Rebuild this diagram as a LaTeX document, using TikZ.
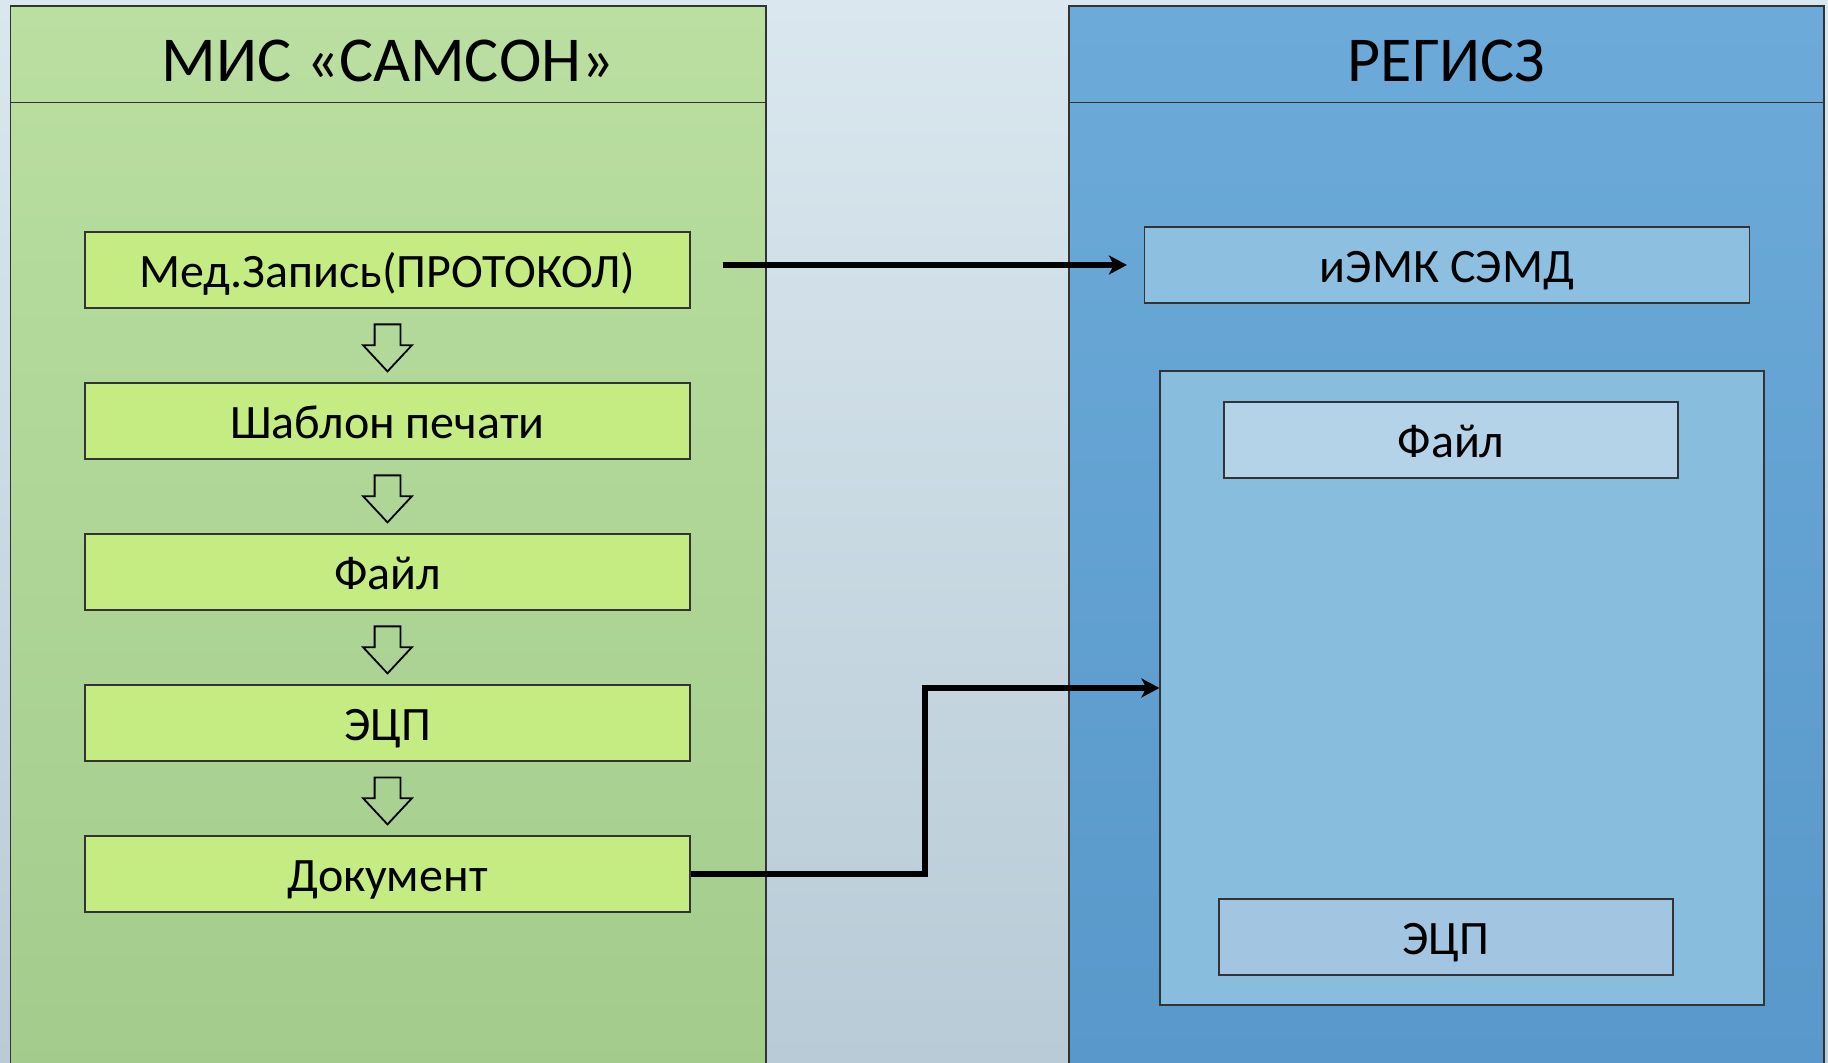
\documentclass[tikz,border=0pt]{standalone}
\usepackage{fontspec}
\setmainfont{Carlito}
\usetikzlibrary{calc,positioning,arrows.meta,shapes.arrows}

\definecolor{bgTop}{RGB}{218,231,239}
\definecolor{bgBot}{RGB}{184,203,214}
\definecolor{misTop}{RGB}{186,223,160}
\definecolor{misBot}{RGB}{163,204,140}
\definecolor{misBox}{RGB}{197,236,131}
\definecolor{regTop}{RGB}{108,171,217}
\definecolor{regBot}{RGB}{88,152,202}
\definecolor{regBox}{RGB}{141,192,224}
\definecolor{regIn}{RGB}{137,189,222}
\definecolor{regFile}{RGB}{180,211,232}
\definecolor{regSig}{RGB}{162,198,225}

\begin{document}
\begin{tikzpicture}[x=0.5pt,y=0.5pt]
 \tikzstyle{arrow} = [->,line width=2.6pt,>={Stealth[length=9pt,width=9.5pt,inset=2.5pt]}];
 \tikzstyle{box}   = [draw=black!80,line width=0.6pt,minimum width=302.5pt,minimum height=38pt,inner sep=0pt,font=\fontsize{24}{28}\selectfont,text height=19pt,text depth=1.5pt];
 \tikzstyle{boxG}  = [box,fill=misBox,node distance=75.5pt];
 \tikzstyle{boxB}  = [box,fill=regBox];
 \tikzstyle{title} = [font=\fontsize{32}{38}\selectfont];
 \tikzstyle{down}  = [single arrow,draw=black,line width=0.9pt,rotate=-90,minimum height=23.5pt,inner sep=6pt,single arrow head extend=5.75pt,single arrow tip angle=86];
 \tikzstyle{panel} = [draw=black!80,line width=0.6pt];

 \clip (0,0) rectangle (1828,1063);
 \shade[top color=bgTop,bottom color=bgBot] (0,0) rectangle (1828,1063);

 %% panel МИС
 \shadedraw[panel,top color=misTop,bottom color=misBot] (10.5,-10) rectangle (766,1057);
 \draw[panel] (10.5,960.4) -- (766,960.4);
 \node[title,name=mis] at (388,1002) {МИС «САМСОН»};

 %% panel РЕГИСЗ
 \shadedraw[panel,top color=regTop,bottom color=regBot] (1069,-10) rectangle (1824,1057);
 \draw[panel] (1069,960.4) -- (1824,960.4);
 \node[title,name=reg] at (1446.5,1002) {РЕГИСЗ};

 %% steps
 \node[boxG,name=m0] at (387.5,793) {Мед.Запись(ПРОТОКОЛ)};
 \node[boxG,name=m1,below of=m0] {Шаблон печати};
 \node[boxG,name=m2,below of=m1] {Файл};
 \node[boxG,name=m3,below of=m2] {ЭЦП};
 \node[boxG,name=m4,below of=m3] {Документ};

 \node[down,name=d0] at ($(m0.south)!0.5!(m1.north)+(0,4.5)$) {};
 \node[down,name=d1] at ($(m1.south)!0.5!(m2.north)+(0,4.5)$) {};
 \node[down,name=d2] at ($(m2.south)!0.5!(m3.north)+(0,4.5)$) {};
 \node[down,name=d3] at ($(m3.south)!0.5!(m4.north)+(0,4.5)$) {};

 %% РЕГИСЗ side
 \node[boxB,name=iemk] at (1447,798) {иЭМК СЭМД};
 \node[panel,fill=regIn,minimum width=302pt,minimum height=317pt,name=cont] at (1462,375) {};
 \node[box,fill=regFile,minimum width=227pt,name=rfile] at (1451,623) {Файл};
 \node[box,fill=regSig,minimum width=227pt,name=rsig] at (1446,126) {ЭЦП};

 \draw[arrow,shorten <=16pt,shorten >=8.5pt] (m0.east |- iemk.west) -- (iemk.west);
 \coordinate (bend) at ($(m4.east)!0.5!(cont.west)$);
 \draw[arrow] (m4.east) -| (bend) |- (cont.west);

\end{tikzpicture}
\end{document}
